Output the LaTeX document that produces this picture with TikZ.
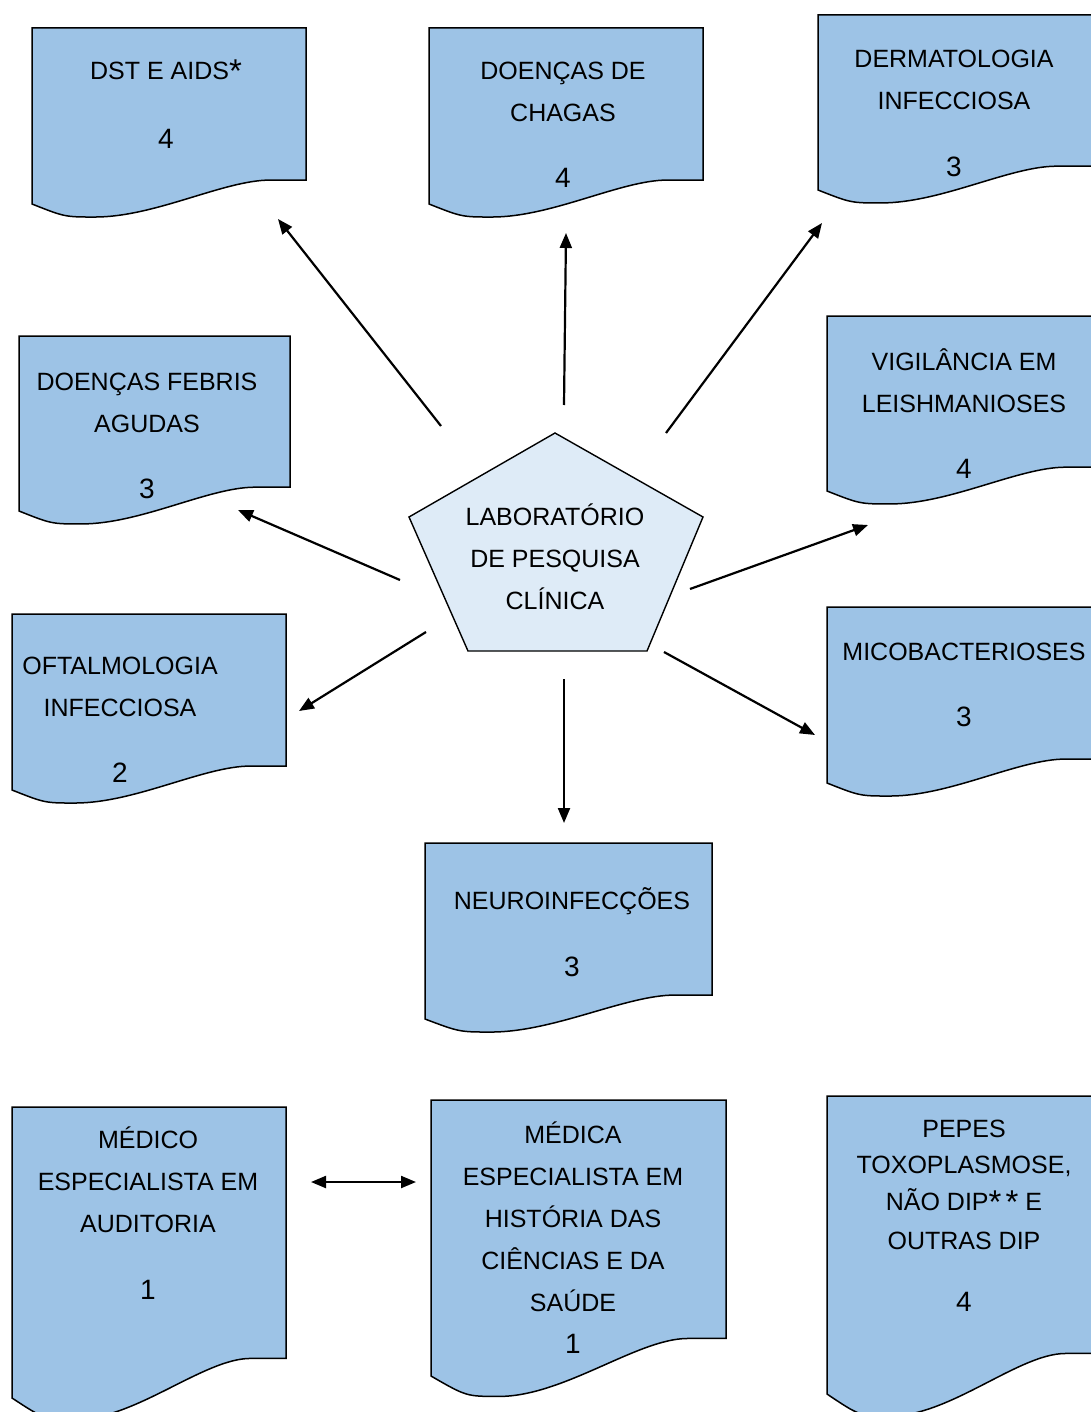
\documentclass[tikz,border=0pt]{standalone}
\usepackage{fontspec}
\setmainfont{Liberation Sans}
\usetikzlibrary{arrows.meta}
\definecolor{boxblue}{HTML}{9DC3E6}
\definecolor{pentablue}{HTML}{DEEBF7}
\newcommand\docshape[4]{%
 \pgfmathsetmacro\dw{#2-#1}%
 \pgfmathsetmacro\dh{#4-#3}%
 \pgfmathsetmacro\yR{#4-0.136*\dh}%
 \pgfmathsetmacro\ym{#4+0.074*\dh}%
 \pgfmathsetmacro\xa{#1+0.87*\dw}%
 \pgfmathsetmacro\xb{#1+0.70*\dw}%
 \pgfmathsetmacro\xc{#1+0.45*\dw}%
 \pgfmathsetmacro\xd{#1+0.23*\dw}%
 \pgfmathsetmacro\xe{#1+0.12*\dw}%
 \draw[docbox] (#1,#3) -- (#2,#3) -- (#2,\yR) -- (\xa,\yR) .. controls (\xb,\yR) and (\xc,\ym) .. (\xd,\ym) .. controls (\xe,\ym) .. (#1,#4) -- cycle;}
\newcommand\tl[4]{\node[lbl] (#1) at (#2,#3+9) {#4};}
\newcommand\tn[4]{\node[numb] (#1) at (#2,#3+10) {#4};}
\newcommand\bigast{\raisebox{-3pt}{\fontsize{33}{33}\selectfont *}}
\begin{document}
\begin{tikzpicture}[x=1pt,y=-1pt,
  docbox/.style={fill=boxblue,draw=black,line width=1.5pt,line join=miter},
  lbl/.style={anchor=base,inner sep=0pt,font=\fontsize{25}{30}\selectfont},
  numb/.style={anchor=base,inner sep=0pt,font=\fontsize{28}{32}\selectfont},
  conn/.style={line width=2.2pt,-{Triangle[length=15pt,width=12pt]}},
  dconn/.style={line width=2.2pt,{Triangle[length=15pt,width=12pt]}-{Triangle[length=15pt,width=12pt]}}]
\useasboundingbox (0,0) rectangle (1091,1412);
\clip (0,0) rectangle (1091,1412);

% boxes
\docshape{32}{306}{28}{204}
\docshape{429}{703}{28}{204}
\docshape{818}{1092}{15}{190}
\docshape{19}{290}{336}{511}
\docshape{827}{1101}{316}{491}
\docshape{12}{286}{614}{790}
\docshape{827}{1101}{607}{783}
\docshape{425}{712}{843}{1019}
\docshape{12}{286}{1107}{1398}
\docshape{431}{726}{1100}{1376}
\docshape{827}{1101}{1096}{1394}

% pentagon
\draw[fill=pentablue,draw=black,line width=1.4pt] (555,433) -- (703,517) -- (647,651) -- (468,651) -- (409,517) -- cycle;
\tl{lab1}{555}{516}{LABORATÓRIO}
\tl{lab2}{555}{558}{DE PESQUISA}
\tl{lab3}{555}{600}{CLÍNICA}

% texts
\tl{dst}{166}{71}{DST E AIDS\bigast}
\tn{dstn}{166}{139}{4}

\tl{cha1}{563}{71}{DOENÇAS DE}
\tl{cha2}{563}{113}{CHAGAS}
\tn{chan}{563}{178}{4}

\tl{der1}{954}{59}{DERMATOLOGIA}
\tl{der2}{954}{101}{INFECCIOSA}
\tn{dern}{954}{167}{3}

\tl{feb1}{147}{381}{DOENÇAS FEBRIS}
\tl{feb2}{147}{423}{AGUDAS}
\tn{febn}{147}{488}{3}

\tl{lei1}{964}{361}{VIGILÂNCIA EM}
\tl{lei2}{964}{403}{LEISHMANIOSES}
\tn{lein}{964}{468}{4}

\tl{oft1}{120}{665}{OFTALMOLOGIA}
\tl{oft2}{120}{707}{INFECCIOSA}
\tn{oftn}{120}{772}{2}

\tl{mic1}{964}{651}{MICOBACTERIOSES}
\tn{micn}{964}{716}{3}

\tl{neu1}{572}{900}{NEUROINFECÇÕES}
\tn{neun}{572}{966}{3}

\tl{med1}{148}{1139}{MÉDICO}
\tl{med2}{148}{1181}{ESPECIALISTA EM}
\tl{med3}{148}{1223}{AUDITORIA}
\tn{medn}{148}{1289}{1}

\tl{mea1}{573}{1134}{MÉDICA}
\tl{mea2}{573}{1176}{ESPECIALISTA EM}
\tl{mea3}{573}{1218}{HISTÓRIA DAS}
\tl{mea4}{573}{1260}{CIÊNCIAS E DA}
\tl{mea5}{573}{1302}{SAÚDE}
\tn{mean}{573}{1343}{1}

\tl{pep1}{964}{1128}{PEPES}
\tl{pep2}{964}{1164}{TOXOPLASMOSE,}
\tl{pep3}{964}{1201}{NÃO DIP\bigast\,\bigast\ E}
\tl{pep4}{964}{1240}{OUTRAS DIP}
\tn{pepn}{964}{1301}{4}

% connector ends
\coordinate (s1) at (441,426); \coordinate (e1) at (278,219);
\coordinate (s2) at (564,405); \coordinate (e2) at (566,233);
\coordinate (s3) at (666,433); \coordinate (e3) at (822,223);
\coordinate (s4) at (400,580); \coordinate (e4) at (238,510);
\coordinate (s5) at (690,589); \coordinate (e5) at (868,525);
\coordinate (s6) at (426,632); \coordinate (e6) at (299,711);
\coordinate (s7) at (664,652); \coordinate (e7) at (815,735);
\coordinate (s8) at (564,679); \coordinate (e8) at (564,823);
\coordinate (s9) at (311,1182); \coordinate (e9) at (416,1182);

\foreach \i in {1,...,8} {\draw[conn] (s\i) -- (e\i);}
\draw[dconn] (s9) -- (e9);
\end{tikzpicture}
\end{document}
